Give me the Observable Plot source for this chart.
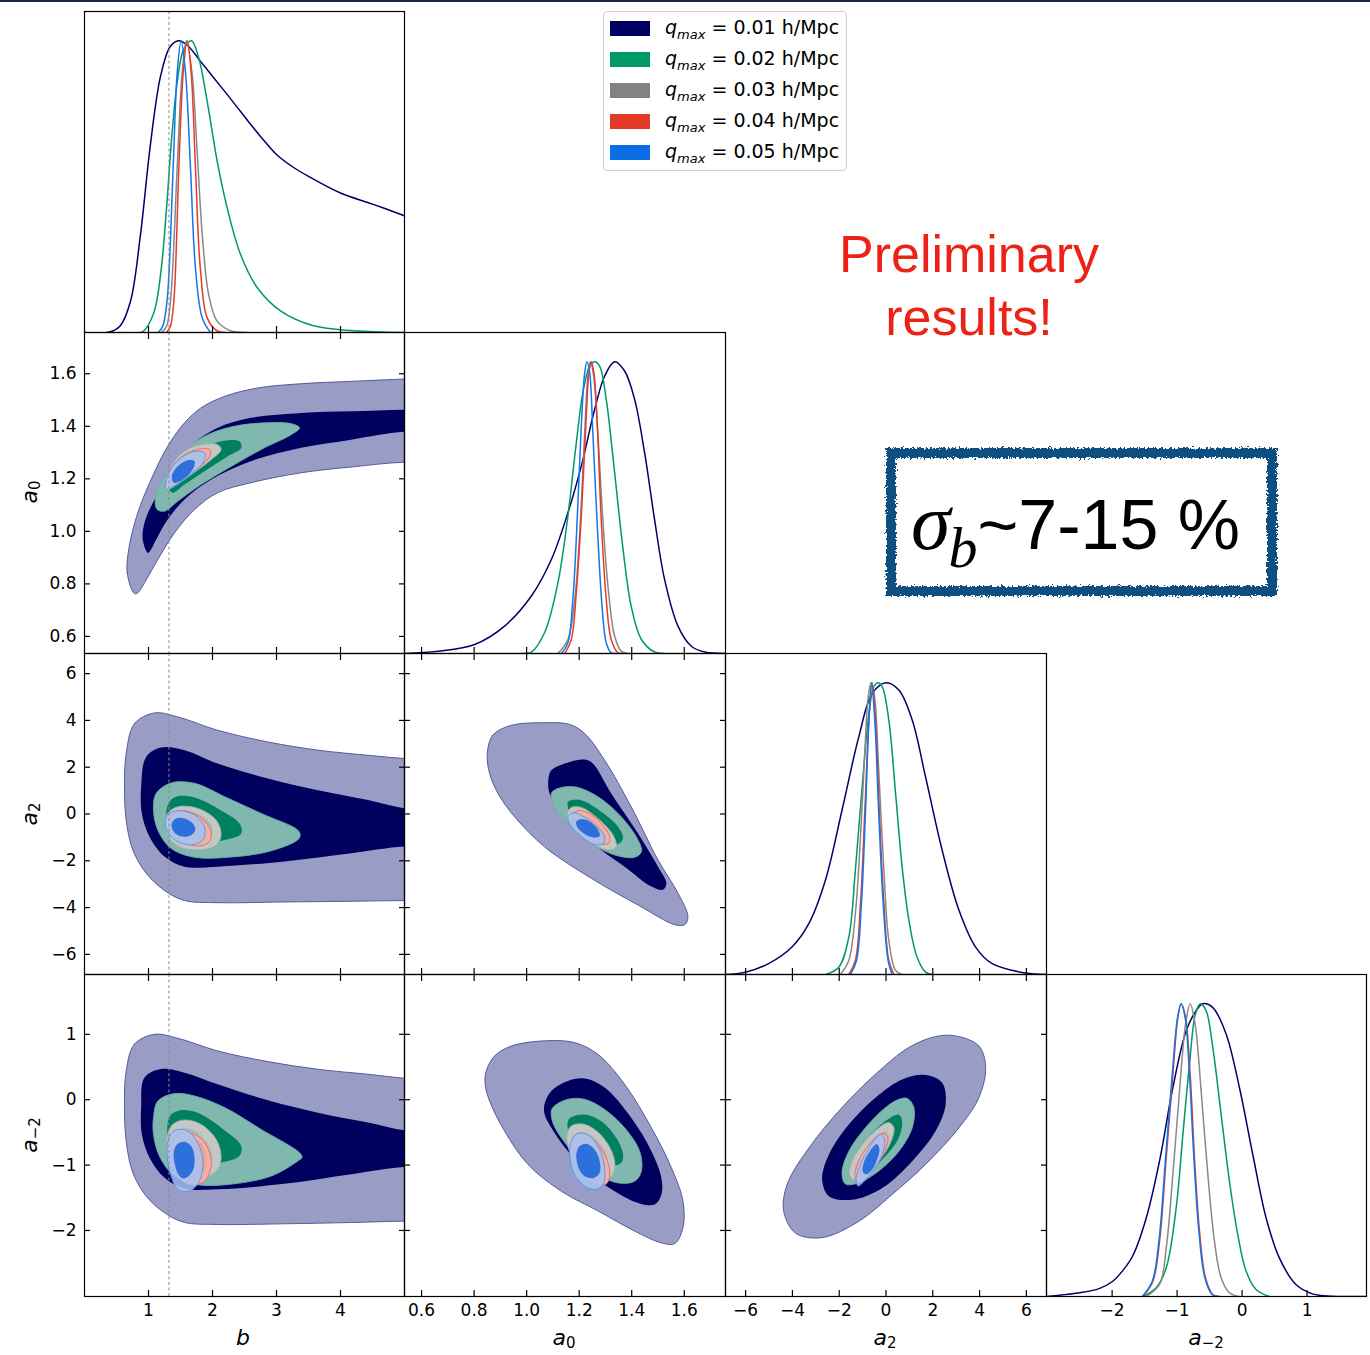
<!DOCTYPE html>
<html><head><meta charset="utf-8">
<script src="https://cdn.jsdelivr.net/npm/d3@7"></script>
<script src="https://cdn.jsdelivr.net/npm/@observablehq/plot@0.6"></script>
<style>
body{margin:0;background:#fff;}
#root{position:relative;width:1370px;height:1355px;overflow:hidden;font-family:"DejaVu Sans";background:#fff;}
#root svg{overflow:visible;}
.axlabel{position:absolute;font-family:"DejaVu Sans";font-size:22px;white-space:nowrap;line-height:1;}
.axlabel i{font-style:italic;}
.axlabel sub{font-size:15px;vertical-align:-0.2em;line-height:0;}
#legend{position:absolute;left:603px;top:11px;width:244px;height:160px;box-sizing:border-box;border:1px solid #cfcfcf;border-radius:4px;background:#fff;}
.lrow{position:absolute;left:0;height:20px;font-family:"DejaVu Sans";font-size:19px;white-space:nowrap;}
.lpatch{position:absolute;left:6px;top:3px;width:40px;height:15px;}
.ltext{position:absolute;left:61px;top:-3px;line-height:24px;}
.ltext sub{font-size:13px;vertical-align:-0.35em;line-height:0;}
#prelim{position:absolute;left:769px;width:400px;top:223px;text-align:center;font-family:"Liberation Sans";font-size:52px;line-height:63px;color:#ec2216;}
#sbox{position:absolute;left:886px;top:448px;width:391px;height:148px;box-sizing:border-box;border:10px solid #0f5081;filter:url(#rough);}
#stext{position:absolute;left:880px;top:448px;width:391px;height:148px;display:flex;align-items:center;justify-content:center;font-family:"Liberation Sans";font-size:70px;color:#000;white-space:nowrap;}
#stext .sg{font-family:"Liberation Serif";font-style:italic;font-size:80px;}
#stext sub{font-family:"Liberation Serif";font-style:italic;font-size:58px;vertical-align:-0.32em;line-height:0;margin-left:-2px;}
#topline{position:absolute;left:0;top:0;width:1370px;height:2px;background:#1b2a3d;}
</style></head>
<body>
<svg width="0" height="0" style="position:absolute">
<filter id="rough" x="-5%" y="-10%" width="110%" height="120%">
<feTurbulence type="fractalNoise" baseFrequency="0.45" numOctaves="2" seed="4" result="noise"/>
<feDisplacementMap in="SourceGraphic" in2="noise" scale="7" xChannelSelector="R" yChannelSelector="G"/>
</filter></svg>
<div id="root"></div>
<script>
// ---------------- DATA ----------------
const qmax = ["0.01", "0.02", "0.03", "0.04", "0.05"];
const legendColors = ["#000062", "#009a66", "#828282", "#e23a25", "#0a6ee6"];
const lineColors = ["#00006a", "#009966", "#888888", "#e8392a", "#1177ee"];
const outerFills = ["#999cc4", "#80b7ae", "#c3c8c5", "#f2b1a7", "#a6c3f2"];
const innerFills = ["#00005f", "#00805f", "#b3b8b5", "#eda293", "#1f66d9"];
const edgeColors = ["#4a4e96", "#6aae9e", "#a8aca9", "#e66a5a", "#5b8fe8"];

const bDomain = [0, 5];
const a0Domain = [0.535, 1.757];
const a2Domain = [-6.86, 6.86];
const am2Domain = [-3.01, 1.915];
const bTicks = [1, 2, 3, 4];
const a0Ticks = [0.6, 0.8, 1.0, 1.2, 1.4, 1.6];
const a2Ticks = [-6, -4, -2, 0, 2, 4, 6];
const am2Ticks = [-2, -1, 0, 1];
const bFiducial = [1.32];
const axisTitles = ["<i>b</i>", "<i>a</i><sub>0</sub>", "<i>a</i><sub>2</sub>", "<i>a</i><sub>\u22122</sub>"];

// 1D marginals [value, normalised density]
const pdf_b = [
  [[0,0],[0.35,0],[0.45,0.006],[0.56,0.023],[0.72,0.108],[0.875,0.336],[1.03,0.644],[1.19,0.88],[1.34,0.98],[1.47,1],[1.60,0.986],[1.81,0.93],[2.0,0.878],[2.25,0.81],[2.5,0.74],[2.75,0.672],[3.0,0.61],[3.25,0.568],[3.5,0.535],[4.0,0.478],[4.5,0.44],[5.0,0.40]],
  [[0.6,0],[0.9,0.002],[0.98,0.02],[1.1,0.08],[1.2,0.22],[1.28,0.42],[1.36,0.66],[1.45,0.86],[1.55,0.97],[1.672,1],[1.786,0.94],[1.917,0.792],[2.073,0.587],[2.229,0.427],[2.4375,0.268],[2.698,0.154],[3.0625,0.074],[3.58,0.023],[4.21,0.006],[5.0,0]],
  [[1.20,0],[1.28,0.02],[1.344,0.108],[1.448,0.564],[1.526,0.89],[1.594,1],[1.68,0.89],[1.76,0.62],[1.84,0.336],[1.94,0.13],[2.07,0.04],[2.28,0.006],[2.54,0]],
  [[1.28,0],[1.34,0.02],[1.396,0.108],[1.474,0.564],[1.542,0.89],[1.604,1],[1.667,0.89],[1.734,0.564],[1.81,0.22],[1.917,0.05],[2.07,0.006],[2.2,0]],
  [[1.15,0],[1.22,0.02],[1.29,0.108],[1.385,0.564],[1.448,0.89],[1.51,1],[1.578,0.89],[1.656,0.564],[1.734,0.22],[1.84,0.05],[1.97,0]]
];
const pdf_a0 = [
  [[0.535,0],[0.662,0.008],[0.802,0.031],[0.916,0.094],[1.018,0.197],[1.094,0.322],[1.157,0.482],[1.208,0.642],[1.259,0.837],[1.297,0.951],[1.335,1],[1.373,0.968],[1.411,0.871],[1.449,0.688],[1.487,0.459],[1.525,0.254],[1.576,0.094],[1.627,0.025],[1.678,0.005],[1.758,0]],
  [[0.98,0],[1.018,0.005],[1.068,0.071],[1.119,0.242],[1.157,0.471],[1.189,0.722],[1.214,0.894],[1.24,0.985],[1.259,1],[1.278,0.985],[1.303,0.871],[1.335,0.619],[1.367,0.357],[1.398,0.162],[1.437,0.048],[1.487,0.005],[1.525,0]],
  [[1.119,0],[1.157,0.048],[1.183,0.185],[1.202,0.414],[1.221,0.757],[1.233,0.951],[1.242,1],[1.255,0.951],[1.271,0.757],[1.29,0.459],[1.312,0.208],[1.335,0.059],[1.36,0.008],[1.385,0]],
  [[1.145,0],[1.17,0.048],[1.189,0.208],[1.208,0.471],[1.227,0.814],[1.237,0.962],[1.246,1],[1.256,0.962],[1.269,0.779],[1.284,0.459],[1.303,0.185],[1.322,0.048],[1.348,0.002],[1.36,0]],
  [[1.132,0],[1.157,0.037],[1.176,0.185],[1.193,0.471],[1.208,0.779],[1.221,0.962],[1.2296,1],[1.24,0.962],[1.252,0.757],[1.269,0.437],[1.287,0.162],[1.303,0.037],[1.322,0.002],[1.34,0]]
];
const pdf_a2 = [
  [[-6.87,0],[-6.01,0.008],[-5.02,0.037],[-4.02,0.094],[-3.30,0.174],[-2.59,0.323],[-1.88,0.563],[-1.16,0.815],[-0.59,0.963],[0,1],[0.55,0.975],[1.12,0.872],[1.69,0.677],[2.40,0.426],[3.12,0.22],[3.83,0.094],[4.54,0.037],[5.97,0.005],[6.87,0]],
  [[-2.59,0],[-2.02,0.025],[-1.59,0.128],[-1.31,0.357],[-1.02,0.643],[-0.73,0.895],[-0.52,0.986],[-0.35,1],[-0.16,0.986],[0.12,0.872],[0.41,0.62],[0.69,0.368],[0.98,0.185],[1.33,0.059],[1.69,0.008],[1.98,0]],
  [[-1.95,0],[-1.59,0.048],[-1.31,0.208],[-1.09,0.471],[-0.91,0.757],[-0.76,0.952],[-0.64,1],[-0.49,0.952],[-0.31,0.70],[-0.09,0.357],[0.12,0.117],[0.41,0.014],[0.69,0]],
  [[-1.59,0],[-1.31,0.048],[-1.09,0.243],[-0.91,0.551],[-0.73,0.872],[-0.59,1],[-0.45,0.872],[-0.28,0.551],[-0.09,0.243],[0.12,0.048],[0.34,0]],
  [[-1.52,0],[-1.26,0.048],[-1.05,0.243],[-0.88,0.551],[-0.73,0.872],[-0.62,1],[-0.48,0.872],[-0.31,0.551],[-0.12,0.243],[0.09,0.048],[0.26,0]]
];
const pdf_am2 = [
  [[-3.01,0],[-2.5,0.013],[-2.2,0.027],[-1.99,0.052],[-1.83,0.09],[-1.68,0.14],[-1.475,0.268],[-1.27,0.463],[-1.065,0.714],[-0.86,0.908],[-0.707,0.976],[-0.604,1],[-0.45,0.987],[-0.246,0.897],[-0.041,0.714],[0.164,0.486],[0.369,0.269],[0.573,0.132],[0.829,0.041],[1.085,0.009],[1.39,0.001],[1.91,0]],
  [[-1.526,0],[-1.321,0.03],[-1.167,0.098],[-1.014,0.303],[-0.911,0.554],[-0.809,0.794],[-0.717,0.966],[-0.64,1],[-0.553,0.976],[-0.451,0.851],[-0.323,0.623],[-0.195,0.395],[-0.067,0.212],[0.061,0.087],[0.215,0.024],[0.42,0]],
  [[-1.475,0],[-1.27,0.041],[-1.167,0.166],[-1.065,0.417],[-0.963,0.702],[-0.87,0.93],[-0.799,1],[-0.722,0.93],[-0.63,0.702],[-0.527,0.417],[-0.425,0.189],[-0.323,0.064],[-0.195,0.013],[-0.041,0]],
  [[-1.526,0],[-1.372,0.052],[-1.27,0.189],[-1.167,0.474],[-1.065,0.759],[-0.988,0.953],[-0.937,1],[-0.87,0.953],[-0.799,0.759],[-0.732,0.474],[-0.655,0.223],[-0.563,0.064],[-0.451,0.007],[-0.348,0]],
  [[-1.536,0],[-1.382,0.052],[-1.28,0.189],[-1.177,0.474],[-1.075,0.759],[-0.993,0.953],[-0.937,1],[-0.876,0.953],[-0.81,0.759],[-0.742,0.474],[-0.665,0.223],[-0.573,0.064],[-0.461,0.007],[-0.358,0]]
];

// 2D contours: per series [95% outline, 68% outline], vertices
const c_b_a0 = [
  [[[0.78,0.763],[0.667,0.842],[0.70,0.944],[0.833,1.071],[1.04,1.197],[1.30,1.324],[1.5625,1.413],[1.82,1.47],[2.19,1.514],[2.71,1.546],[3.385,1.562],[4.17,1.571],[5.01,1.58],[5.6,1.585],[5.6,1.256],[5.01,1.263],[4.17,1.245],[3.385,1.223],[2.60,1.185],[2.08,1.147],[1.72,1.083],[1.406,0.994],[1.146,0.893],[0.9375,0.804],[0.833,0.766]],
   [[0.99,0.918],[0.91,0.969],[0.9375,1.033],[1.12,1.134],[1.406,1.248],[1.72,1.337],[2.083,1.394],[2.60,1.432],[3.385,1.451],[4.17,1.457],[5.01,1.463],[5.6,1.467],[5.6,1.375],[5.01,1.379],[4.17,1.349],[3.385,1.318],[2.60,1.267],[1.98,1.197],[1.5625,1.121],[1.30,1.045],[1.12,0.969],[1.04,0.931]]],
  [[[1.104,1.121],[1.17,1.172],[1.354,1.248],[1.615,1.318],[1.927,1.368],[2.34,1.40],[2.81,1.413],[3.23,1.41],[3.36,1.394],[3.23,1.368],[2.81,1.318],[2.34,1.254],[1.82,1.178],[1.458,1.115],[1.25,1.077],[1.135,1.083]],
   [[1.328,1.159],[1.51,1.248],[1.77,1.305],[2.135,1.343],[2.42,1.343],[2.45,1.318],[2.24,1.286],[1.875,1.229],[1.5625,1.178],[1.38,1.147]]],
  [[[1.26,1.178],[1.354,1.248],[1.5625,1.305],[1.82,1.33],[2.08,1.33],[2.135,1.311],[1.98,1.273],[1.667,1.216],[1.406,1.172],[1.29,1.159]],
   [[1.33,1.191],[1.43,1.248],[1.667,1.292],[1.93,1.305],[1.98,1.286],[1.77,1.248],[1.51,1.197],[1.365,1.178]]],
  [[[1.276,1.178],[1.365,1.242],[1.5625,1.292],[1.82,1.314],[1.97,1.309],[1.93,1.276],[1.667,1.223],[1.43,1.182],[1.31,1.169]],
   [[1.34,1.191],[1.43,1.242],[1.615,1.28],[1.82,1.292],[1.85,1.273],[1.667,1.235],[1.458,1.197]]],
  [[[1.26,1.172],[1.328,1.229],[1.51,1.28],[1.745,1.305],[1.885,1.296],[1.85,1.261],[1.615,1.21],[1.38,1.169],[1.29,1.157]],
   [[1.365,1.21],[1.458,1.248],[1.615,1.271],[1.72,1.267],[1.69,1.235],[1.536,1.197],[1.396,1.185]]]
];
const c_b_a2 = [
  [[[0.651,2.58],[0.78,3.86],[1.094,4.32],[1.458,4.15],[2.08,3.58],[2.865,3.08],[3.646,2.73],[4.43,2.51],[5.01,2.37],[5.6,2.30],[5.6,-3.70],[5.01,-3.70],[4.17,-3.73],[3.125,-3.76],[2.08,-3.79],[1.5625,-3.70],[1.25,-3.27],[0.964,-2.53],[0.755,-1.54],[0.651,-0.26],[0.625,1.16]],
   [[0.885,1.16],[0.964,2.44],[1.198,2.84],[1.5625,2.73],[2.08,2.16],[2.865,1.52],[3.646,1.02],[4.43,0.594],[5.01,0.24],[5.6,0.15],[5.6,-1.44],[5.01,-1.39],[4.17,-1.68],[3.125,-2.03],[2.08,-2.25],[1.5625,-2.25],[1.25,-1.82],[1.016,-0.97],[0.896,0.026]]],
  [[[1.078,0.168],[1.12,0.88],[1.354,1.33],[1.72,1.31],[2.19,0.74],[2.76,0.026],[3.33,-0.68],[3.37,-0.90],[3.33,-1.11],[2.865,-1.61],[2.24,-1.85],[1.72,-1.85],[1.354,-1.47],[1.146,-0.69]],
   [[1.276,0.026],[1.328,0.52],[1.43,0.74],[1.72,0.71],[2.08,0.24],[2.42,-0.40],[2.45,-0.83],[2.19,-1.11],[1.82,-1.22],[1.51,-0.97],[1.328,-0.54]]],
  [[[1.26,-0.40],[1.30,0.03],[1.458,0.31],[1.77,0.24],[2.057,-0.26],[2.135,-0.90],[2.057,-1.33],[1.77,-1.54],[1.484,-1.40],[1.328,-1.04]],
   [[1.365,-0.40],[1.458,0.03],[1.667,0.10],[1.93,-0.26],[2.0,-0.83],[1.875,-1.18],[1.615,-1.22],[1.43,-0.90]]],
  [[[1.344,-0.26],[1.406,0.05],[1.5625,0.14],[1.797,-0.12],[1.97,-0.69],[1.953,-1.18],[1.77,-1.37],[1.536,-1.18],[1.38,-0.76]],
   [[1.406,-0.33],[1.484,-0.05],[1.64,-0.02],[1.797,-0.33],[1.875,-0.76],[1.797,-1.11],[1.59,-1.11],[1.448,-0.76]]],
  [[[1.26,-0.33],[1.328,0.03],[1.51,0.14],[1.72,-0.05],[1.875,-0.54],[1.85,-1.11],[1.667,-1.32],[1.43,-1.14],[1.30,-0.76]],
   [[1.365,-0.40],[1.43,-0.19],[1.5625,-0.19],[1.69,-0.40],[1.73,-0.69],[1.64,-0.94],[1.484,-0.94],[1.38,-0.69]]]
];
const c_b_am2 = [
  [[[0.651,0.44],[0.78,0.85],[1.094,1.0],[1.458,0.94],[2.08,0.746],[2.865,0.583],[3.646,0.466],[4.43,0.389],[5.01,0.328],[5.6,0.30],[5.6,-1.857],[5.01,-1.857],[4.17,-1.878],[3.125,-1.898],[2.08,-1.908],[1.5625,-1.878],[1.25,-1.73],[0.964,-1.475],[0.755,-1.117],[0.651,-0.632],[0.625,-0.12]],
   [[0.885,-0.12],[0.9375,0.338],[1.198,0.471],[1.5625,0.414],[2.08,0.236],[2.865,-0.009],[3.646,-0.198],[4.43,-0.35],[5.01,-0.47],[5.6,-0.50],[5.6,-1.05],[5.01,-1.03],[4.17,-1.14],[3.125,-1.286],[2.08,-1.37],[1.5625,-1.357],[1.25,-1.193],[1.016,-0.887],[0.896,-0.53]]],
  [[[1.078,-0.275],[1.146,-0.02],[1.406,0.093],[1.72,0.057],[2.19,-0.12],[2.76,-0.454],[3.36,-0.81],[3.40,-0.88],[3.33,-0.94],[2.917,-1.168],[2.34,-1.286],[1.77,-1.3],[1.406,-1.168],[1.17,-0.862],[1.078,-0.53]],
   [[1.30,-0.35],[1.354,-0.224],[1.51,-0.16],[1.77,-0.2],[2.135,-0.428],[2.45,-0.71],[2.42,-0.862],[2.135,-0.964],[1.77,-1.015],[1.484,-0.938],[1.328,-0.71]]],
  [[[1.30,-0.53],[1.38,-0.377],[1.5625,-0.31],[1.82,-0.377],[2.057,-0.607],[2.135,-0.862],[2.083,-1.066],[1.875,-1.193],[1.5625,-1.193],[1.365,-1.015],[1.29,-0.785]],
   [[1.365,-0.58],[1.484,-0.454],[1.69,-0.454],[1.90,-0.632],[2.0,-0.862],[1.93,-1.066],[1.667,-1.142],[1.458,-1.04],[1.38,-0.836]]],
  [[[1.365,-0.684],[1.43,-0.556],[1.5625,-0.505],[1.77,-0.556],[1.9375,-0.76],[1.98,-1.015],[1.885,-1.234],[1.72,-1.306],[1.536,-1.245],[1.406,-1.04]],
   [[1.43,-0.71],[1.51,-0.58],[1.64,-0.556],[1.797,-0.632],[1.90,-0.836],[1.885,-1.066],[1.745,-1.193],[1.5625,-1.168],[1.458,-0.99]]],
  [[[1.29,-0.734],[1.344,-0.53],[1.458,-0.454],[1.615,-0.48],[1.77,-0.658],[1.85,-0.938],[1.797,-1.245],[1.64,-1.398],[1.458,-1.372],[1.344,-1.142],[1.30,-0.938]],
   [[1.396,-0.785],[1.458,-0.673],[1.5625,-0.643],[1.667,-0.71],[1.72,-0.887],[1.69,-1.091],[1.5625,-1.204],[1.484,-1.168],[1.417,-1.015]]]
];
const c_a0_a2 = [
  [[[0.85,2.58],[0.871,3.37],[0.941,3.79],[1.068,3.90],[1.164,3.83],[1.221,3.44],[1.297,2.30],[1.398,0.31],[1.50,-1.96],[1.576,-3.38],[1.614,-4.38],[1.602,-4.73],[1.564,-4.73],[1.424,-3.89],[1.246,-2.75],[1.068,-1.40],[0.954,-0.12],[0.891,0.88],[0.859,1.73]],
   [[1.084,1.59],[1.094,1.87],[1.145,2.16],[1.221,2.33],[1.252,2.16],[1.322,0.88],[1.424,-0.83],[1.50,-2.25],[1.532,-2.96],[1.519,-3.24],[1.475,-3.10],[1.373,-2.25],[1.284,-1.54],[1.17,-0.40],[1.106,0.45],[1.084,1.02]]],
  [[[1.094,0.88],[1.119,1.09],[1.183,1.16],[1.271,0.74],[1.36,-0.12],[1.424,-1.11],[1.437,-1.61],[1.411,-1.85],[1.335,-1.75],[1.246,-1.25],[1.157,-0.40],[1.106,0.31]],
   [[1.157,0.52],[1.17,0.59],[1.208,0.59],[1.284,0.10],[1.348,-0.54],[1.367,-1.04],[1.348,-1.28],[1.297,-1.18],[1.227,-0.69],[1.17,-0.12]]],
  [[[1.155,0.03],[1.17,0.28],[1.208,0.28],[1.271,-0.19],[1.329,-0.90],[1.341,-1.40],[1.316,-1.54],[1.259,-1.33],[1.195,-0.76],[1.16,-0.33]],
   [[1.176,-0.12],[1.202,0.05],[1.246,-0.19],[1.297,-0.69],[1.312,-1.18],[1.284,-1.33],[1.233,-1.04],[1.189,-0.54]]],
  [[[1.174,-0.05],[1.195,0.14],[1.233,0.05],[1.284,-0.40],[1.316,-0.97],[1.312,-1.25],[1.278,-1.28],[1.227,-0.97],[1.185,-0.47]],
   [[1.185,-0.19],[1.208,-0.07],[1.246,-0.22],[1.284,-0.61],[1.297,-1.00],[1.278,-1.11],[1.233,-0.90],[1.195,-0.47]]],
  [[[1.157,-0.12],[1.176,0.05],[1.208,-0.05],[1.259,-0.47],[1.297,-0.97],[1.29,-1.28],[1.252,-1.28],[1.202,-0.90],[1.167,-0.47]],
   [[1.189,-0.33],[1.208,-0.22],[1.24,-0.33],[1.271,-0.66],[1.278,-0.94],[1.252,-1.00],[1.214,-0.80],[1.193,-0.57]]]
];
const c_a0_am2 = [
  [[[0.846,0.44],[0.878,0.67],[0.941,0.82],[1.068,0.90],[1.183,0.873],[1.271,0.695],[1.373,0.236],[1.475,-0.43],[1.551,-1.04],[1.595,-1.55],[1.595,-1.96],[1.564,-2.20],[1.513,-2.19],[1.411,-2.01],[1.271,-1.70],[1.132,-1.40],[1.005,-0.99],[0.916,-0.48],[0.859,-0.02],[0.842,0.236]],
   [[1.068,-0.07],[1.094,0.134],[1.157,0.287],[1.221,0.323],[1.297,0.185],[1.398,-0.277],[1.475,-0.787],[1.513,-1.196],[1.513,-1.451],[1.487,-1.604],[1.424,-1.579],[1.335,-1.40],[1.246,-1.145],[1.157,-0.787],[1.094,-0.43],[1.068,-0.22]]],
  [[[1.094,-0.17],[1.106,-0.095],[1.157,0.006],[1.221,0.006],[1.297,-0.15],[1.373,-0.43],[1.43,-0.787],[1.437,-1.09],[1.411,-1.247],[1.348,-1.273],[1.271,-1.145],[1.195,-0.89],[1.132,-0.583],[1.1,-0.353]],
   [[1.157,-0.33],[1.17,-0.266],[1.221,-0.226],[1.284,-0.328],[1.341,-0.583],[1.367,-0.838],[1.36,-0.966],[1.316,-1.017],[1.259,-0.94],[1.208,-0.787],[1.17,-0.583],[1.157,-0.455]]],
  [[[1.155,-0.506],[1.17,-0.404],[1.208,-0.369],[1.259,-0.455],[1.31,-0.685],[1.335,-0.94],[1.329,-1.145],[1.297,-1.222],[1.252,-1.206],[1.208,-1.094],[1.17,-0.864],[1.155,-0.66]],
   [[1.176,-0.557],[1.208,-0.49],[1.252,-0.557],[1.294,-0.761],[1.312,-0.99],[1.297,-1.145],[1.259,-1.17],[1.221,-1.068],[1.189,-0.89],[1.176,-0.71]]],
  [[[1.176,-0.634],[1.189,-0.532],[1.221,-0.532],[1.259,-0.634],[1.297,-0.838],[1.316,-1.094],[1.307,-1.273],[1.278,-1.314],[1.24,-1.247],[1.202,-1.068],[1.179,-0.838]],
   [[1.189,-0.685],[1.208,-0.593],[1.24,-0.618],[1.278,-0.787],[1.297,-1.017],[1.29,-1.206],[1.259,-1.237],[1.221,-1.119],[1.195,-0.915]]],
  [[[1.164,-0.736],[1.176,-0.583],[1.202,-0.506],[1.24,-0.557],[1.278,-0.761],[1.297,-1.04],[1.294,-1.273],[1.271,-1.365],[1.233,-1.35],[1.195,-1.222],[1.17,-1.017]],
   [[1.189,-0.838],[1.202,-0.71],[1.227,-0.675],[1.259,-0.761],[1.278,-0.94],[1.278,-1.119],[1.256,-1.196],[1.221,-1.17],[1.198,-1.043]]]
];
const c_a2_am2 = [
  [[[2.98,0.976],[3.97,0.823],[4.26,0.491],[3.97,0.032],[3.12,-0.43],[1.69,-0.99],[0.26,-1.45],[-1.16,-1.86],[-2.74,-2.11],[-3.87,-2.04],[-4.37,-1.71],[-4.23,-1.30],[-3.30,-0.74],[-1.88,-0.12],[-0.45,0.39],[0.98,0.80],[2.12,0.966]],
   [[1.69,0.378],[2.40,0.26],[2.55,-0.07],[2.12,-0.48],[1.12,-0.94],[-0.16,-1.35],[-1.45,-1.53],[-2.44,-1.475],[-2.73,-1.22],[-2.44,-0.84],[-1.59,-0.38],[-0.45,0.03],[0.69,0.31]]],
  [[[0.91,0.02],[1.19,-0.12],[1.12,-0.43],[0.55,-0.79],[-0.31,-1.09],[-1.16,-1.27],[-1.73,-1.29],[-1.88,-1.12],[-1.59,-0.79],[-0.88,-0.43],[-0.02,-0.12],[0.55,0.006]],
   [[0.55,-0.23],[0.69,-0.325],[0.55,-0.58],[-0.02,-0.86],[-0.73,-1.09],[-1.23,-1.17],[-1.38,-1.07],[-1.16,-0.81],[-0.59,-0.51],[0.12,-0.29]]],
  [[[0.12,-0.35],[0.34,-0.43],[0.19,-0.66],[-0.31,-0.94],[-0.88,-1.14],[-1.38,-1.23],[-1.56,-1.14],[-1.45,-0.94],[-0.95,-0.66],[-0.38,-0.45]],
   [[-0.02,-0.48],[0.12,-0.56],[-0.09,-0.76],[-0.59,-0.99],[-1.09,-1.14],[-1.30,-1.09],[-1.16,-0.91],[-0.73,-0.68],[-0.31,-0.53]]],
  [[[-0.09,-0.52],[0.08,-0.58],[-0.05,-0.79],[-0.45,-1.02],[-0.88,-1.19],[-1.19,-1.27],[-1.33,-1.19],[-1.23,-0.99],[-0.88,-0.76],[-0.45,-0.58]],
   [[-0.16,-0.63],[-0.05,-0.71],[-0.28,-0.89],[-0.66,-1.09],[-1.02,-1.19],[-1.16,-1.13],[-1.02,-0.96],[-0.66,-0.77]]],
  [[[-0.24,-0.53],[-0.05,-0.61],[-0.16,-0.84],[-0.52,-1.07],[-0.95,-1.255],[-1.19,-1.32],[-1.28,-1.245],[-1.16,-1.04],[-0.81,-0.79],[-0.48,-0.61]],
   [[-0.38,-0.68],[-0.28,-0.76],[-0.38,-0.91],[-0.59,-1.07],[-0.85,-1.14],[-0.99,-1.10],[-0.95,-0.96],[-0.73,-0.81],[-0.52,-0.71]]]
];

// ---------------- LAYOUT ----------------
const root = document.getElementById("root");
const colX = [84, 404, 725, 1046], colW = [320, 321, 321, 320];
const rowY = [11, 332, 653, 974], rowH = [321, 321, 321, 322];
const minus = d => String(d).replace("-", "\u2212");
const params = [
  {domain: bDomain, ticks: bTicks, fmt: d => String(d)},
  {domain: a0Domain, ticks: a0Ticks, fmt: d => d.toFixed(1)},
  {domain: a2Domain, ticks: a2Ticks, fmt: minus},
  {domain: am2Domain, ticks: am2Ticks, fmt: minus}
];
const pdfs = [pdf_b, pdf_a0, pdf_a2, pdf_am2];
const contours = {"1,0": c_b_a0, "2,0": c_b_a2, "3,0": c_b_am2, "2,1": c_a0_a2, "3,1": c_a0_am2, "3,2": c_a2_am2};
const TS = 6, TW = 1.2;

function place(chart, col, row) {
  chart.style.position = "absolute";
  chart.style.left = colX[col] + "px";
  chart.style.top = rowY[row] + "px";
  chart.style.overflow = "visible";
  root.appendChild(chart);
}
function xAxes(p, row, both) {
  const m = [Plot.axisX({ticks: p.ticks, anchor: "bottom", tickSize: TS, dy: -TS, strokeWidth: TW, tickFormat: () => "", label: null})];
  if (both) m.push(Plot.axisX({ticks: p.ticks, anchor: "top", tickSize: TS, dy: TS, strokeWidth: TW, tickFormat: () => "", label: null}));
  if (row === 3) m.push(Plot.axisX({ticks: p.ticks, anchor: "bottom", tickSize: 0, tickPadding: 7, tickFormat: p.fmt, label: null, fontSize: 17}));
  return m;
}
function yAxes(p, col) {
  const m = [
    Plot.axisY({ticks: p.ticks, anchor: "left", tickSize: TS, dx: TS, strokeWidth: TW, tickFormat: () => "", label: null}),
    Plot.axisY({ticks: p.ticks, anchor: "right", tickSize: TS, dx: -TS, strokeWidth: TW, tickFormat: () => "", label: null})
  ];
  if (col === 0) m.push(Plot.axisY({ticks: p.ticks, anchor: "left", tickSize: 0, tickPadding: 8, tickFormat: p.fmt, label: null, fontSize: 17}));
  return m;
}
const baseStyle = {fontFamily: "DejaVu Sans", fontSize: "17px", background: "transparent", color: "black", overflow: "visible"};
const fid = col => col === 0 ? [Plot.ruleX(bFiducial, {stroke: "#8a8a8a", strokeWidth: 1, strokeDasharray: "3,2.5"})] : [];

for (let row = 0; row < 4; row++) {
  for (let col = 0; col <= row; col++) {
    const px = params[col];
    let chart;
    if (row === col) {
      const marks = pdfs[col].map((pts, i) => Plot.line(pts, {x: d => d[0], y: d => d[1], curve: "catmull-rom", stroke: lineColors[i], strokeWidth: 1.5, clip: true}));
      chart = Plot.plot({
        width: colW[col], height: rowH[row], margin: 0,
        x: {domain: px.domain}, y: {domain: [0, 1.1], axis: null},
        style: baseStyle,
        marks: [...marks, ...fid(col), Plot.frame({stroke: "black", strokeWidth: 1.2}), ...xAxes(px, row, false)]
      });
    } else {
      const py = params[row];
      const cs = contours[row + "," + col];
      const marks = [];
      cs.forEach(([outer, inner], i) => {
        marks.push(Plot.line(outer, {x: d => d[0], y: d => d[1], curve: "catmull-rom-closed", fill: outerFills[i], fillOpacity: i === 4 ? 0.85 : 1, stroke: edgeColors[i], strokeWidth: 0.9, clip: true}));
        marks.push(Plot.line(inner, {x: d => d[0], y: d => d[1], curve: "catmull-rom-closed", fill: innerFills[i], fillOpacity: i >= 3 ? 0.9 : 1, stroke: "none", clip: true}));
      });
      chart = Plot.plot({
        width: colW[col], height: rowH[row], margin: 0,
        x: {domain: px.domain}, y: {domain: py.domain},
        style: baseStyle,
        marks: [...marks, ...fid(col), Plot.frame({stroke: "black", strokeWidth: 1.2}), ...xAxes(px, row, true), ...yAxes(py, col)]
      });
    }
    place(chart, col, row);
  }
}

// axis titles
function addLabel(html, x, y, rotate) {
  const d = document.createElement("div");
  d.className = "axlabel";
  d.innerHTML = html;
  d.style.left = x + "px"; d.style.top = y + "px";
  d.style.transform = "translate(-50%,-50%)" + (rotate ? " rotate(-90deg)" : "");
  root.appendChild(d);
}
[243, 564, 885, 1206].forEach((x, i) => addLabel(axisTitles[i], x, 1338, false));
[492, 814, 1135].forEach((y, i) => addLabel(axisTitles[i + 1], 30, y, true));

// legend
const lg = document.createElement("div");
lg.id = "legend";
qmax.forEach((q, i) => {
  const r = document.createElement("div");
  r.className = "lrow";
  r.style.top = (6 + i * 31) + "px";
  r.innerHTML = `<div class="lpatch" style="background:${legendColors[i]}"></div><div class="ltext"><i>q</i><sub><i>max</i></sub> = ${q} h/Mpc</div>`;
  lg.appendChild(r);
});
root.appendChild(lg);

// annotations
const pr = document.createElement("div");
pr.id = "prelim";
pr.innerHTML = "Preliminary<br>results!";
root.appendChild(pr);
const sb = document.createElement("div"); sb.id = "sbox"; root.appendChild(sb);
const st = document.createElement("div"); st.id = "stext";
st.innerHTML = '<span><span class="sg">\u03c3</span><sub>b</sub>~7-15 %</span>';
root.appendChild(st);
const tl = document.createElement("div"); tl.id = "topline"; root.appendChild(tl);
</script>
</body></html>
